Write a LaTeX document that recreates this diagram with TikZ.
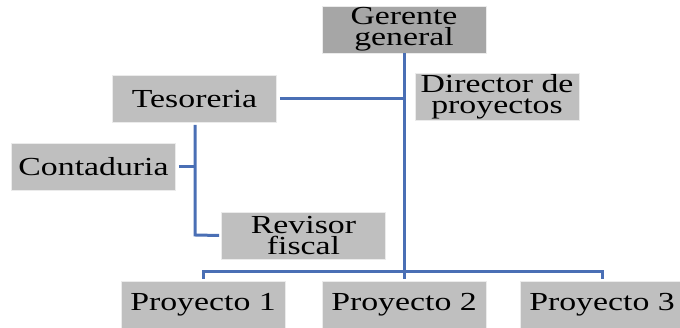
\documentclass[tikz,border=0pt]{standalone}
\usepackage{fontspec}
\setmainfont[FakeStretch=1.3]{Liberation Serif}
\definecolor{boxgray}{HTML}{BFBFBF}
\definecolor{topgray}{HTML}{A6A6A6}
\definecolor{linkblue}{HTML}{4A6FB5}
\begin{document}
\begin{tikzpicture}[x=1pt,y=1pt,
  box/.style={fill=boxgray, draw=white!92!black, line width=0.6pt, minimum width=164pt, minimum height=47pt, inner sep=0pt, align=center, font=\fontsize{26}{21}\selectfont},
  conn/.style={draw=linkblue, line width=3pt}]
\useasboundingbox (0,0) rectangle (680,328);
\node[box, fill=topgray] (ger) at (404,298.5) {Gerente\\general};
\node[box] (dir) at (497,231) {Director de\\proyectos};
\node[box] (tes) at (194.5,229) {Tesoreria};
\node[box] (con) at (93.5,161.5) {Contaduria};
\node[box] (rev) at (303.5,92.5) {Revisor\\fiscal};
\node[box] (p1) at (203,23.5) {Proyecto 1};
\node[box] (p2) at (404,23.5) {Proyecto 2};
\node[box] (p3) at (602,23.5) {Proyecto 3};
\coordinate (hub) at (404,56);
\coordinate (tj) at (404,229);
\coordinate (tv) at (195,93);
\draw[conn] (ger.south) -- (hub);
\draw[conn] ([xshift=3pt]tes.east) -- (tj);
\draw[conn] ([yshift=-2pt]tes.south -| tv) -- (tv) -- ([xshift=-2pt]rev.west);
\draw[conn] ([xshift=3pt]con.east) -- (con.east -| tv);
\draw[conn] ([yshift=2pt]p1.north) -- (p1.north |- hub) -- (p3.north |- hub) -- ([yshift=2pt]p3.north);
\draw[conn] (hub) -- ([yshift=2pt]p2.north);
\end{tikzpicture}
\end{document}
